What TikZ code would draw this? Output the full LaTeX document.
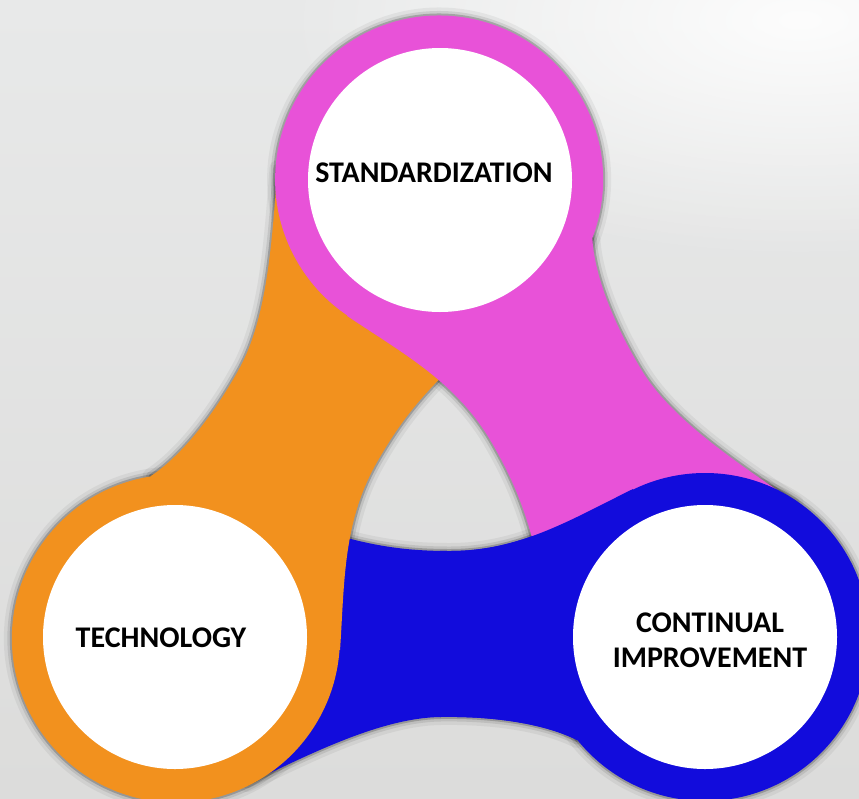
\documentclass[tikz,border=0pt]{standalone}
\usepackage{fontspec}
\usetikzlibrary{fadings}
\newfontfamily\lblfont{Carlito}
\definecolor{pinkc}{HTML}{E852D8}
\definecolor{orangec}{HTML}{F2911E}
\definecolor{bluec}{HTML}{120CDC}
\definecolor{bgtop}{HTML}{E8E9E9}
\definecolor{bgbot}{HTML}{DCDCDB}
\tikzfading[name=softblob,inner color=transparent!0,outer color=transparent!100]
% band from the blue ring (705,637) to the orange ring (175,637)
\def\bandpath{(705,637) -- (577,740) .. controls (545,724) and (495,716) .. (440,717) .. controls (380,718) and (308,755) .. (247,784) -- (175,637) -- (330,545) -- (347,538) .. controls (385,548) and (415,551) .. (450,551) .. controls (520,551) and (570,520) .. (633,489) -- cycle}
\begin{document}
\begin{tikzpicture}[x=1pt,y=-1pt,
  shadowA/.style={draw=black,draw opacity=0.05,line width=16pt,line join=round},
  shadowB/.style={draw=black,draw opacity=0.09,line width=9pt,line join=round},
  shadowC/.style={draw=black,draw opacity=0.2,line width=4pt,line join=round},
  hub/.style={circle,fill=white,minimum size=264pt,inner sep=0pt},
  lbl/.style={font=\lblfont\bfseries\fontsize{30}{35}\selectfont,text=black,align=center,inner sep=0pt}]
\useasboundingbox (0,0) rectangle (859,798);
\clip (0,0) rectangle (859,798);
\shade[top color=bgtop,bottom color=bgbot] (0,0) rectangle (859,798);
\fill[white,path fading=softblob,fill opacity=0.9] (800,20) ellipse [x radius=520pt,y radius=240pt];
% soft shadows
\foreach \ang in {0,120,-120}{
  \begin{scope}[rotate around={\ang:(440,485)}]
    \path[shadowA] \bandpath;
    \path[shadowA] (705,637) circle[radius=164pt];
    \path[shadowB] \bandpath;
    \path[shadowB] (705,637) circle[radius=164pt];
    \path[shadowC] \bandpath;
    \path[shadowC] (705,637) circle[radius=164pt];
  \end{scope}
}
% blue band (bottom layer)
\fill[bluec] \bandpath;
% orange band and ring
\begin{scope}[rotate around={-120:(440,485)}]
  \fill[orangec] \bandpath;
  \fill[orangec] (705,637) circle[radius=164pt];
\end{scope}
% pink band and ring
\begin{scope}[rotate around={120:(440,485)}]
  \fill[pinkc] \bandpath;
  \fill[pinkc] (705,637) circle[radius=164pt];
\end{scope}
% blue ring and right part of blue band on top
\begin{scope}
  \clip (440,0) rectangle (900,800);
  \fill[bluec] \bandpath;
\end{scope}
\fill[bluec] (705,637) circle[radius=164pt];
% white hubs
\node[hub] (std) at (440,180) {};
\node[hub] (tech) at (175,637) {};
\node[hub] (ci) at (705,637) {};
% labels
\node[lbl,anchor=base] (stdtxt) at (434,182) {STANDARDIZATION};
\node[lbl,anchor=base] (techtxt) at (161,647) {TECHNOLOGY};
\node[lbl] (citxt) at (710,640) {CONTINUAL\\IMPROVEMENT};
\end{tikzpicture}
\end{document}
